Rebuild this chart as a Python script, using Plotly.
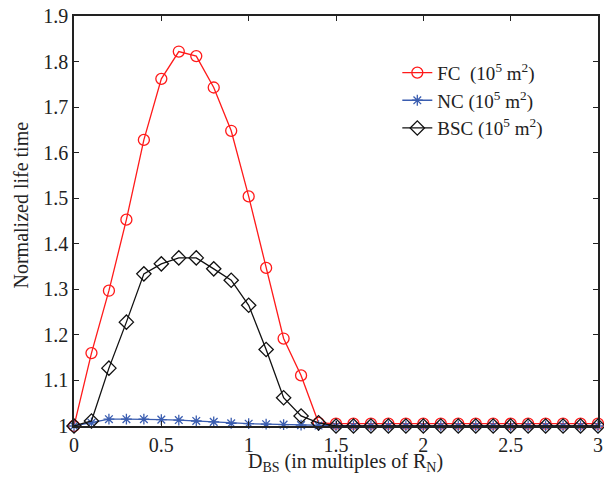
import plotly.graph_objects as go

x_vals = [round(i * 0.1, 1) for i in range(31)]

fc = [1.0, 1.16, 1.297, 1.453, 1.628, 1.762, 1.822, 1.812, 1.743, 1.648, 1.504,
      1.347, 1.192, 1.111, 1.007] + [1.005] * 16
nc = [1.0, 1.007, 1.015, 1.015, 1.015, 1.014, 1.013, 1.011, 1.009, 1.006, 1.005,
      1.004, 1.003, 1.002, 1.001] + [1.0] * 16
bsc = [1.0, 1.011, 1.127, 1.228, 1.334, 1.356, 1.369, 1.369, 1.345, 1.32, 1.265,
       1.168, 1.062, 1.022, 1.007] + [1.0] * 16

names = ["FC\u00a0\u00a0(10<sup>5</sup> m<sup>2</sup>)",
         "NC (10<sup>5</sup> m<sup>2</sup>)",
         "BSC (10<sup>5</sup> m<sup>2</sup>)"]

x_ticks = [0, 0.5, 1, 1.5, 2, 2.5, 3]
x_tick_text = ["0", "0.5", "1", "1.5", "2", "2.5", "3"]
y_ticks = [1.0, 1.1, 1.2, 1.3, 1.4, 1.5, 1.6, 1.7, 1.8, 1.9]
y_tick_text = ["1", "1.1", "1.2", "1.3", "1.4", "1.5", "1.6", "1.7", "1.8", "1.9"]

x_title = "D<sub>BS</sub> (in multiples of R<sub>N</sub>)"
y_title = "Normalized life time"

font_family = "Liberation Serif, Times New Roman, serif"
fs = 20

fig = go.Figure()
fig.add_trace(go.Scatter(x=x_vals, y=fc, name=names[0], mode="lines+markers",
                         line=dict(color="#ff1a1a", width=1.3),
                         marker=dict(symbol="circle-open", size=11, color="#ff1a1a",
                                     line=dict(width=1.3)),
                         cliponaxis=False))
fig.add_trace(go.Scatter(x=x_vals, y=nc, name=names[1], mode="lines+markers",
                         line=dict(color="#3a5db0", width=1.3),
                         marker=dict(symbol="asterisk-open", size=9, color="#3a5db0",
                                     line=dict(width=1.3, color="#3a5db0")),
                         cliponaxis=False))
fig.add_trace(go.Scatter(x=x_vals, y=bsc, name=names[2], mode="lines+markers",
                         line=dict(color="#111111", width=1.3),
                         marker=dict(symbol="diamond-open", size=11, color="#111111",
                                     line=dict(width=1.3)),
                         cliponaxis=False))

axis_common = dict(showline=True, linecolor="#222222", linewidth=1.5, mirror="ticks",
                   ticks="inside", ticklen=5, tickcolor="#222222", showgrid=False,
                   zeroline=False, automargin=False, ticklabeloverflow="allow",
                   tickfont=dict(family=font_family, size=fs, color="#222222"))

fig.update_layout(
    width=604, height=479,
    margin=dict(l=74, r=6, t=16, b=53),
    paper_bgcolor="white", plot_bgcolor="white",
    font=dict(family=font_family, size=fs, color="#222222"),
    xaxis=dict(range=[0, 3], tickvals=x_ticks, ticktext=x_tick_text, **axis_common),
    yaxis=dict(range=[1, 1.9], tickvals=y_ticks, ticktext=y_tick_text, **axis_common),
    legend=dict(x=0.617, y=0.908, xanchor="left", yanchor="top",
                bgcolor="rgba(0,0,0,0)", borderwidth=0,
                font=dict(family=font_family, size=19), tracegroupgap=0),
    showlegend=True,
    annotations=[
        dict(text=x_title, xref="paper", yref="paper", x=0.519, y=-0.088,
             xanchor="center", yanchor="middle", showarrow=False,
             font=dict(family=font_family, size=fs, color="#222222")),
        dict(text=y_title, xref="paper", yref="paper", x=-0.101, y=0.538,
             xanchor="center", yanchor="middle", showarrow=False, textangle=-90,
             font=dict(family=font_family, size=fs, color="#222222")),
    ],
)

fig.write_html(
    "out.html",
    config={"displayModeBar": False},
    post_script="document.body.style.margin='0';document.body.style.overflow='hidden';",
)
